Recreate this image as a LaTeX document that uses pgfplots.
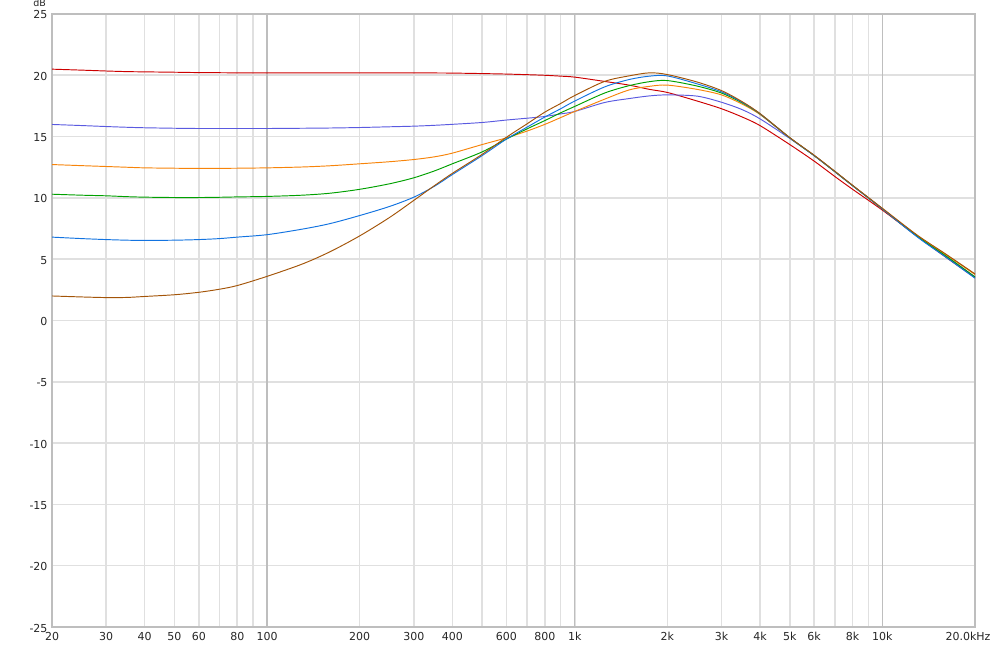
\documentclass[border=0pt]{standalone}
\usepackage{pgfplots}
\usepackage{pgfplotstable}
\pgfplotsset{compat=1.18}
\usepackage{fontspec}
\setmainfont{DejaVu Sans}
\definecolor{cred}{HTML}{CC0000}
\definecolor{cpurple}{HTML}{5A5AE0}
\definecolor{corange}{HTML}{F7840A}
\definecolor{cgreen}{HTML}{00A000}
\definecolor{cblue}{HTML}{1273E0}
\definecolor{cbrown}{HTML}{A35408}
\definecolor{gridc}{HTML}{E0E0E0}
\definecolor{decc}{HTML}{BEBEBE}
\pgfplotstableread{
f     red    purple orange green  blue  brown
20    20.50  15.99  12.72  10.30  6.80  2.00
25    20.42  15.90  12.63  10.22  6.68  1.92
30    20.35  15.82  12.56  10.17  6.60  1.87
35    20.30  15.76  12.50  10.10  6.55  1.88
40    20.28  15.72  12.45  10.06  6.53  1.96
50    20.25  15.68  12.42  10.03  6.55  2.10
60    20.22  15.66  12.40  10.03  6.60  2.30
70    20.21  15.66  12.41  10.05  6.68  2.55
80    20.20  15.66  12.42  10.08  6.80  2.85
100   20.20  15.66  12.45  10.12  7.00  3.60
130   20.20  15.68  12.52  10.22  7.45  4.60
160   20.20  15.70  12.62  10.38  7.90  5.60
200   20.20  15.74  12.78  10.70  8.56  6.90
250   20.20  15.80  12.95  11.15  9.30  8.40
300   20.20  15.85  13.13  11.64  10.06 9.80
350   20.19  15.92  13.35  12.20  10.95 11.00
400   20.18  16.00  13.65  12.78  11.90 12.00
500   20.14  16.15  14.35  13.75  13.45 13.55
600   20.10  16.35  14.90  14.80  14.80 14.95
700   20.05  16.50  15.45  15.63  15.77 16.04
800   20.00  16.64  16.00  16.31  16.60 17.00
900   19.93  16.85  16.55  16.94  17.27 17.70
1000  19.85  17.05  17.05  17.46  17.90 18.35
1250  19.50  17.78  18.05  18.55  19.05 19.50
1500  19.20  18.10  18.80  19.15  19.65 19.95
1750  18.85  18.32  19.10  19.48  19.93 20.20
2000  18.60  18.40  19.20  19.57  19.95 20.06
2500  17.90  18.30  18.85  19.12  19.30 19.45
3000  17.27  17.80  18.40  18.55  18.65 18.75
3500  16.60  17.20  17.65  17.75  17.80 17.85
4000  15.90  16.45  16.80  16.85  16.86 16.88
5000  14.35  14.85  14.90  14.90  14.90 14.92
6000  13.00  13.45  13.45  13.45  13.45 13.48
7000  11.75  12.15  12.15  12.15  12.15 12.18
8000  10.70  11.00  11.00  11.00  11.00 11.03
10000 9.00   9.10   9.10   9.10   9.10  9.15
13000 6.85   6.85   6.90   6.85   6.80  6.95
16000 5.20   5.30   5.40   5.30   5.20  5.45
20000 3.50   3.55   3.75   3.55   3.45  3.80
}\datatable
\begin{document}
\begin{tikzpicture}
\path[use as bounding box] (-52pt,-20pt) rectangle (948pt,627pt);
\begin{axis}[
  at={(0pt,0pt)}, anchor=south west,
  scale only axis, width=923pt, height=613pt,
  xmode=log, xmin=20, xmax=20000, ymin=-25, ymax=25,
  xtick={20,30,40,50,60,70,80,90,100,200,300,400,500,600,700,800,900,1000,2000,3000,4000,5000,6000,7000,8000,9000,10000},
  xticklabels={20,30,40,50,60,,80,,100,200,300,400,,600,,800,,1k,2k,3k,4k,5k,6k,,8k,,10k},
  extra x ticks={20000}, extra x tick labels={20.0kHz},
  extra x tick style={grid=none, xticklabel style={xshift=-7pt}},
  ytick={-25,-20,-15,-10,-5,0,5,10,15,20,25},
  yticklabels={-25,-20,-15,-10,-5,0,5,10,15,20,25},
  major tick length=0pt,
  grid=major,
  major grid style={draw=gridc, line width=1.6pt},
  axis line style={draw=decc, line width=2.2pt},
  tick label style={font=\fontsize{11}{13}\selectfont, text=black!85},
  xticklabel style={yshift=-2pt},
  yticklabel style={xshift=-1pt, yshift=-1pt},
  clip=true,
]
\draw[decc, line width=1.5pt] (axis cs:100,-25) -- (axis cs:100,25);
\draw[decc, line width=1.5pt] (axis cs:1000,-25) -- (axis cs:1000,25);
\draw[decc, line width=1.5pt] (axis cs:10000,-25) -- (axis cs:10000,25);
\addplot[cred, line width=0.95pt, smooth] table[x=f, y=red] {\datatable};
\addplot[cpurple, line width=0.95pt, smooth] table[x=f, y=purple] {\datatable};
\addplot[corange, line width=0.95pt, smooth] table[x=f, y=orange] {\datatable};
\addplot[cgreen, line width=0.95pt, smooth] table[x=f, y=green] {\datatable};
\addplot[cblue, line width=0.95pt, smooth] table[x=f, y=blue] {\datatable};
\addplot[cbrown, line width=0.95pt, smooth] table[x=f, y=brown] {\datatable};
\end{axis}
\node[anchor=base east, font=\fontsize{9.5}{11}\selectfont, text=black!85, inner sep=0pt] at (-6pt, 620pt) {dB};
\end{tikzpicture}
\end{document}
